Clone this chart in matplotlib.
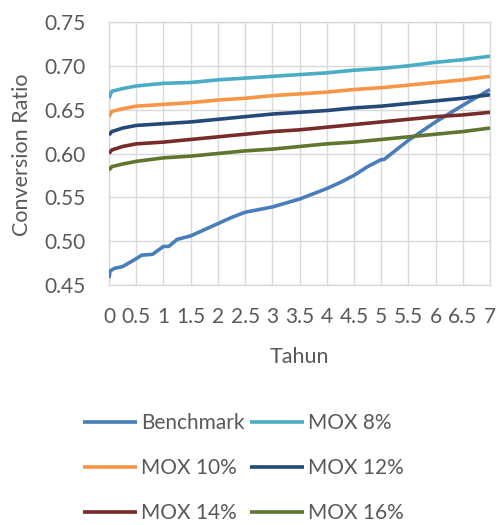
import matplotlib
matplotlib.use("Agg")
import matplotlib.pyplot as plt

plt.rcParams['font.family'] = ['Lato', 'DejaVu Sans']

# time axis (years)
t_bench = [0, 0.02, 0.1, 0.25, 0.5, 0.6, 0.8, 1.0, 1.1, 1.25, 1.5, 1.75, 2.0, 2.25, 2.5,
           3.0, 3.5, 4.0, 4.25, 4.5, 4.75, 5.0, 5.05, 5.5, 6.0, 6.5, 7.0]
benchmark = [0.458, 0.466, 0.469, 0.471, 0.480, 0.484, 0.485, 0.494, 0.494, 0.502, 0.506,
             0.513, 0.520, 0.527, 0.533, 0.539, 0.548, 0.560, 0.567, 0.575, 0.585, 0.593,
             0.593, 0.615, 0.636, 0.655, 0.673]

t_mox = [0, 0.05, 0.25, 0.5, 1.0, 1.5, 2.0, 2.5, 3.0, 3.5, 4.0, 4.5, 5.0, 5.5, 6.0, 6.5, 7.0]
mox8 = [0.663, 0.671, 0.674, 0.677, 0.680, 0.681, 0.684, 0.686, 0.688, 0.690, 0.692,
        0.695, 0.697, 0.700, 0.704, 0.707, 0.711]
mox10 = [0.642, 0.648, 0.651, 0.654, 0.656, 0.658, 0.661, 0.663, 0.666, 0.668, 0.670,
         0.673, 0.675, 0.678, 0.681, 0.684, 0.688]
mox12 = [0.621, 0.625, 0.629, 0.632, 0.634, 0.636, 0.639, 0.642, 0.645, 0.647, 0.649,
         0.652, 0.654, 0.657, 0.660, 0.663, 0.667]
mox14 = [0.600, 0.604, 0.608, 0.611, 0.613, 0.616, 0.619, 0.622, 0.625, 0.627, 0.630,
         0.633, 0.636, 0.639, 0.642, 0.644, 0.647]
mox16 = [0.581, 0.585, 0.588, 0.591, 0.595, 0.597, 0.600, 0.603, 0.605, 0.608, 0.611,
         0.613, 0.616, 0.619, 0.622, 0.625, 0.629]

labels = ["Benchmark", "MOX 8%", "MOX 10%", "MOX 12%", "MOX 14%", "MOX 16%"]
colors = ["#4A7EBB", "#4BACC6", "#F79646", "#254A7A", "#772C2A", "#5F7530"]

x_ticks = [i * 0.5 for i in range(15)]
x_ticklabels = ["0", "0.5", "1", "1.5", "2", "2.5", "3", "3.5", "4", "4.5",
                "5", "5.5", "6", "6.5", "7"]
y_ticks = [0.45, 0.50, 0.55, 0.60, 0.65, 0.70, 0.75]

txt = "#595959"
grid_c = "#D9D9D9"

fig = plt.figure(figsize=(4.99, 5.25), dpi=100)
ax = fig.add_axes([109 / 499, 1 - 285 / 525, 381 / 499, 263 / 525])

series = [(t_bench, benchmark)] + [(t_mox, s) for s in (mox8, mox10, mox12, mox14, mox16)]
lines = []
for (t, y), lab, c in zip(series, labels, colors):
    ln, = ax.plot(t, y, color=c, lw=2.6, label=lab, solid_capstyle='butt', zorder=3)
    lines.append(ln)

ax.set_xlim(0, 7)
ax.set_ylim(0.45, 0.75)
ax.set_xticks(x_ticks)
ax.set_xticklabels(x_ticklabels)
ax.set_yticks(y_ticks)
ax.set_yticklabels([f"{v:.2f}" for v in y_ticks])
ax.grid(True, color=grid_c, lw=1.0)
ax.set_axisbelow(True)
for s in ax.spines.values():
    s.set_color(grid_c)
    s.set_linewidth(1.0)
ax.tick_params(length=0, labelsize=15, colors=txt)
ax.tick_params(axis='y', pad=17)
ax.tick_params(axis='x', pad=15.5)

ax.set_xlabel("Tahun", fontsize=15.5, color=txt)
ax.set_ylabel("Conversion Ratio", fontsize=15.5, color=txt)
ax.xaxis.set_label_coords(0.5, -0.235)
ax.yaxis.set_label_coords(-0.202, 0.495)

# legend filled row by row: Benchmark | MOX 8%, MOX 10% | MOX 12%, ...
order = [0, 2, 4, 1, 3, 5]
leg = fig.legend([lines[i] for i in order], [labels[i] for i in order],
                 loc='center left', bbox_to_anchor=(73 / 499, 1 - 468 / 525), ncol=2,
                 frameon=False, fontsize=15, handlelength=2.55, handletextpad=0.2,
                 columnspacing=0.3, labelspacing=1.2, borderpad=0)
for tx in leg.get_texts():
    tx.set_color(txt)

fig.savefig("out.png", dpi=100)
